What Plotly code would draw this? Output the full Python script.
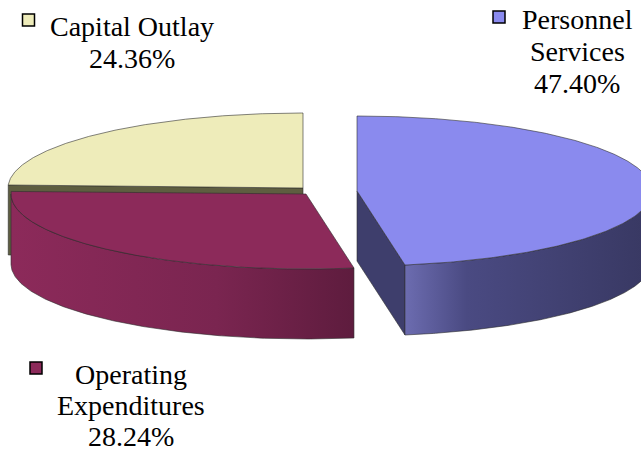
import numpy as np
import plotly.graph_objects as go

# ---- data ----
labels = ["Personnel Services", "Operating Expenditures", "Capital Outlay"]
label_lines = [["Personnel", "Services"], ["Operating", "Expenditures"], ["Capital Outlay"]]
values = [47.40, 28.24, 24.36]

# ---- styles ----
top_colors = ["#8A8AEE", "#8C2A5A", "#EEECBA"]
side_scales = [
    [[0, "#6C6CB0"], [0.25, "#4A4A82"], [1, "#383862"]],
    [[0, "#8C2A5A"], [0.6, "#7A2550"], [1, "#5E1C3E"]],
    [[0, "#7A7A55"], [1, "#5E5E40"]],
]
radial_colors = ["#3E3E6C", "#6E2248", "#5E5E40"]
edge = dict(color="rgba(45,45,45,0.85)", width=0.7)

# pie geometry (paper-pixel units)
CX, CY, RX, RY, DEPTH = 303, 188, 295, 75, 70
offsets = [(54, 3), (3, 6), (0, 0)]

# label layout
label_x = [577, 131, 132]
label_y0 = [19, 374, 26]
line_step = [32, 31, 32]
key_pos = [(499, 17), (36, 368), (28.5, 20)]

W, H = 641, 452


def proj(theta, r, z, off):
    t = np.radians(theta)
    x = CX + off[0] + RX * r * np.cos(t)
    y = CY + off[1] - RY * r * np.sin(t) + z * DEPTH
    return x, y


fig = go.Figure()


def add_poly(xs, ys, color=None, scale=None):
    kw = dict(x=list(xs) + [xs[0]], y=list(ys) + [ys[0]], mode="lines", fill="toself",
              line=edge, hoverinfo="skip", showlegend=False)
    if scale is not None:
        kw["fillgradient"] = dict(type="horizontal", colorscale=scale)
    else:
        kw["fillcolor"] = color
    fig.add_trace(go.Scatter(**kw))


# slice angles: start at 12 o'clock, clockwise
cum = 0.0
spans = []
for v in values:
    hi = 90 - cum * 3.6
    lo = hi - v * 3.6
    spans.append((lo, hi))
    cum += v

for i in [2, 1, 0]:
    lo, hi = spans[i]
    off = offsets[i]
    # radial faces
    for ang, vis in ((lo, np.cos(np.radians(lo)) > 1e-6), (hi, np.cos(np.radians(hi)) < -1e-6)):
        if vis:
            x0, y0 = proj(np.array([0.0, ang, ang, 0.0]), np.array([0, 1, 1, 0]),
                          np.array([0, 0, 1, 1]), off)
            add_poly(x0, y0, color=radial_colors[i])
    # outer front side
    for a, b in ((-180, 0), (180, 360)):
        s, e = max(lo, a), min(hi, b)
        if e - s > 0.05:
            t = np.linspace(s, e, 200)
            xt, yt = proj(t, 1, 0, off)
            xb, yb = proj(t[::-1], 1, 1, off)
            add_poly(np.concatenate([xt, xb]), np.concatenate([yt, yb]), scale=side_scales[i])
    # top face
    t = np.linspace(lo, hi, 300)
    xa, ya = proj(t, 1, 0, off)
    xc, yc = proj(np.array([0.0]), 0, 0, off)
    add_poly(np.concatenate([xc, xa]), np.concatenate([yc, ya]), color=top_colors[i])

# label keys
fig.add_trace(go.Scatter(
    x=[p[0] for p in key_pos], y=[p[1] for p in key_pos], mode="markers",
    marker=dict(symbol="square", size=12, color=top_colors, line=dict(color="black", width=1.5)),
    hoverinfo="skip", showlegend=False))

annotations = []
for i, v in enumerate(values):
    lines = label_lines[i] + [f"{v:.2f}%"]
    for k, txt in enumerate(lines):
        annotations.append(dict(
            x=label_x[i], y=label_y0[i] + k * line_step[i], xref="x", yref="y",
            text=txt, showarrow=False, xanchor="center", yanchor="middle",
            font=dict(family="Liberation Serif", size=28, color="black")))

fig.update_layout(
    width=W, height=H, margin=dict(l=0, r=0, t=0, b=0),
    paper_bgcolor="white", plot_bgcolor="white",
    xaxis=dict(range=[0, W], visible=False, fixedrange=True),
    yaxis=dict(range=[H, 0], visible=False, fixedrange=True),
    annotations=annotations,
)

fig.write_html("out.html", config={"displayModeBar": False},
               post_script="document.body.style.margin='0';document.body.style.overflow='hidden';")
